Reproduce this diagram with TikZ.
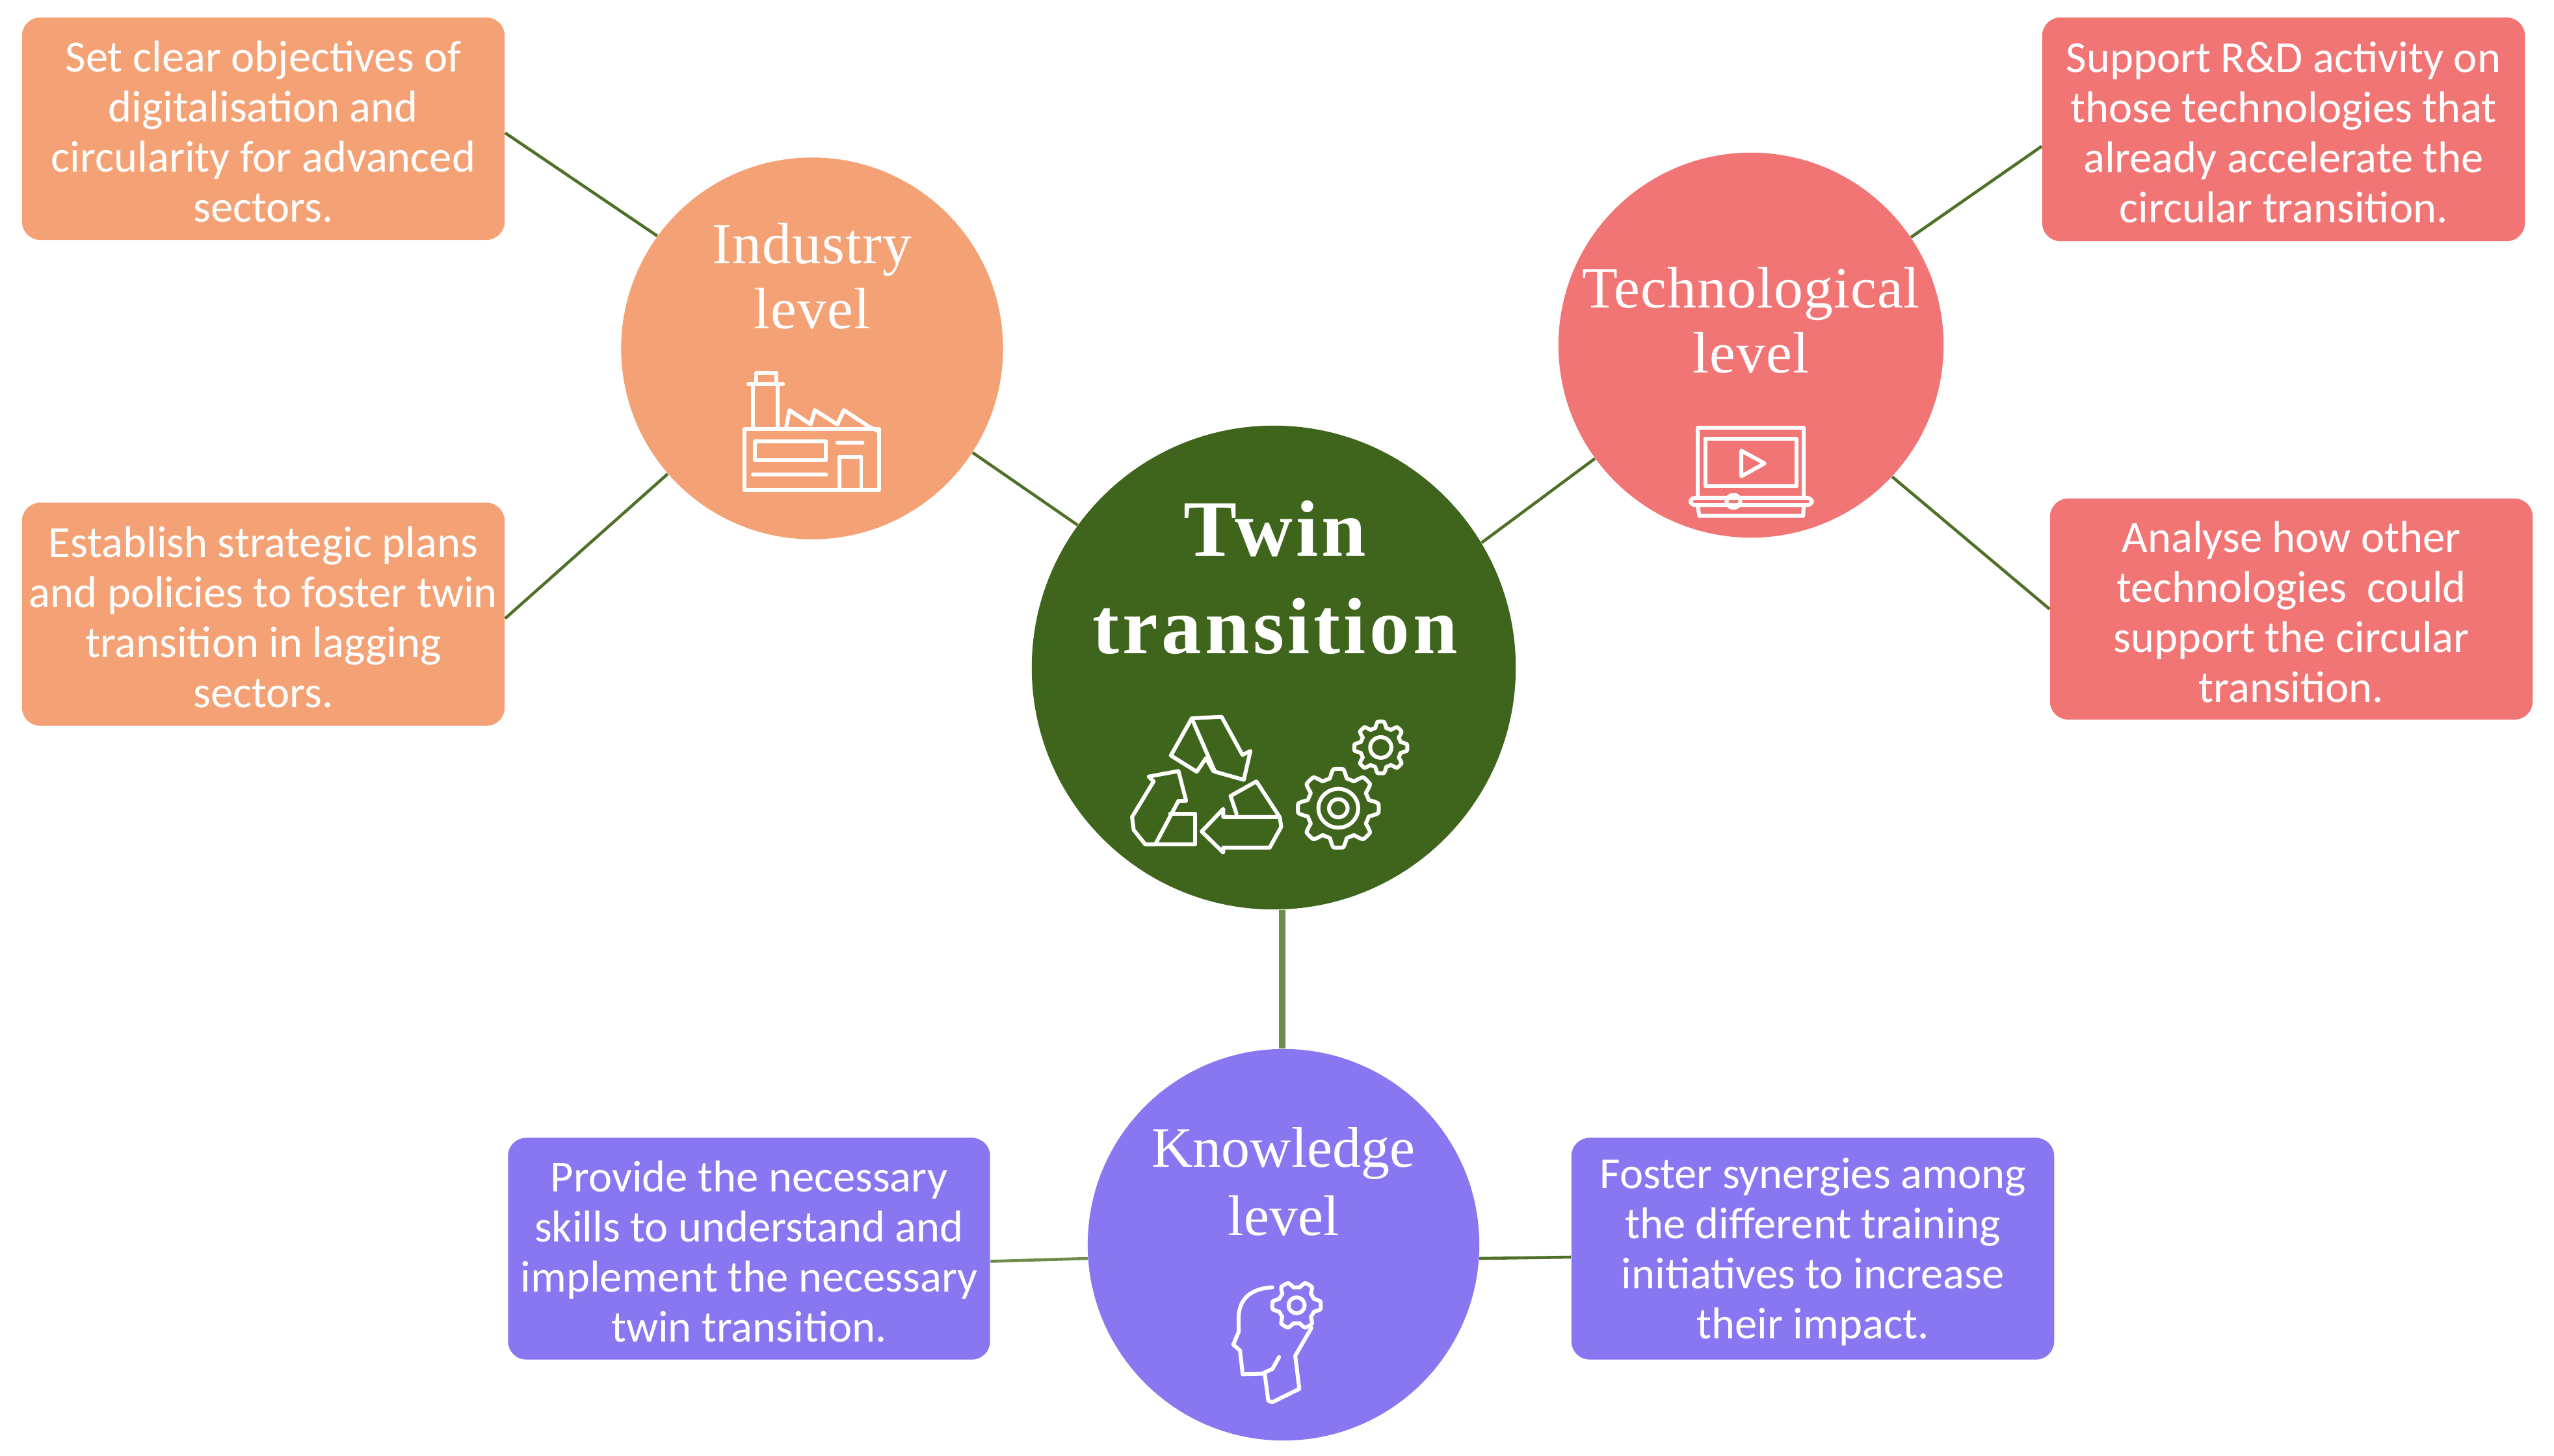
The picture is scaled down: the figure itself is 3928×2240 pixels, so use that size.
\documentclass[tikz,border=0pt]{standalone}
\usepackage{fontspec}
\setmainfont{Carlito}
\newfontfamily\headfont{Liberation Serif}
\newfontfamily\headspaced[LetterSpace=1.2]{Liberation Serif}
\newfontfamily\headbold[LetterSpace=4.4,BoldFont={Liberation Serif Bold}]{Liberation Serif}
\definecolor{orangeC}{HTML}{F4A275}
\definecolor{redC}{HTML}{F27575}
\definecolor{purpleC}{HTML}{8877F0}
\definecolor{greenC}{HTML}{3F651C}
\definecolor{linkC}{HTML}{4F7028}
\definecolor{linkL}{HTML}{6E8B4D}
\tikzset{
 hub/.style={circle,inner sep=0pt,draw=none},
 note/.style={rounded corners=0.28cm,inner sep=0pt,text=white,align=center,draw=none,
   font=\fontsize{19.5pt}{21.9pt}\selectfont},
 head/.style={text=white,align=center,inner sep=0pt,font=\headspaced\fontsize{25.5pt}{28.5pt}\selectfont},
 link/.style={draw=linkC,line width=1.3pt},
 icon/.style={draw=white,line width=1.7pt,line join=round,line cap=round,fill=none},
}
\newcommand{\notetop}{\rule{0pt}{16.2pt}}
\newcommand{\geartooth}[5]{% cx cy outer inner teeth
 \draw[icon] plot[samples=241,domain=0:360] ({#1+(#4+(#3-#4)*(0.5+0.5*max(-1,min(1,1.8*cos(#5*\x)))))*cos(\x)},{#2+(#4+(#3-#4)*(0.5+0.5*max(-1,min(1,1.8*cos(#5*\x)))))*sin(\x)}) -- cycle;}
\begin{document}
\begin{tikzpicture}[x=0.01cm,y=-0.01cm]
\useasboundingbox (0,0) rectangle (3928,2240);
% hubs
\node[hub,fill=greenC,minimum size=7.44cm] (twin) at (1959,1027) {};
\node[hub,fill=orangeC,minimum size=5.87cm] (ind) at (1249,536) {};
\node[hub,fill=redC,minimum size=5.92cm] (tech) at (2693,531) {};
\node[hub,fill=purpleC,minimum size=6.02cm] (know) at (1974,1915) {};
% notes
\node[note,fill=orangeC,minimum width=7.42cm,minimum height=3.42cm] (n1) at (405,198) {\notetop Set clear objectives of\\digitalisation and\\circularity for advanced\\sectors.};
\node[note,fill=orangeC,minimum width=7.42cm,minimum height=3.43cm] (n2) at (405,945) {\notetop Establish strategic plans\\and policies to foster twin\\transition in lagging\\sectors.};
\node[note,fill=redC,minimum width=7.42cm,minimum height=3.44cm] (n3) at (3512,199) {\notetop Support R\&D activity on\\those technologies that\\already accelerate the\\circular transition.};
\node[note,fill=redC,minimum width=7.42cm,minimum height=3.40cm] (n4) at (3524,937) {\notetop Analyse how other\\technologies\ \ could\\support the circular\\transition.};
\node[note,fill=purpleC,minimum width=7.41cm,minimum height=3.41cm] (n5) at (1152,1921) {\notetop Provide the necessary\\skills to understand and\\implement the necessary\\twin transition.};
\node[note,fill=purpleC,minimum width=7.42cm,minimum height=3.41cm] (n6) at (2788,1921) {\notetop Foster synergies among\\the different training\\initiatives to increase\\their impact.};
% connectors
\draw[link] (n1.-1.4) -- (ind.144);
\draw[link] (n2.-1.4) -- (ind.221);
\draw[link] (ind.-33) -- (twin.144);
\draw[link] (twin.31.9) -- (tech.216.3);
\draw[link] (tech.34.2) -- (n3.184);
\draw[link] (tech.-43.9) -- (n4.180.3);
\draw[draw=linkL,line width=2.6pt] (twin.-88.6) -- (twin.-88.6 |- know.north);
\draw[link,draw=linkL] (n5.-3.1) -- (know.184.9);
\draw[link] (n6.182.5) -- (know.-4.2);
% titles
\node[head,font=\headbold\bfseries\fontsize{35pt}{42.7pt}\selectfont] (t0) at (1961,888) {Twin\\transition};
\node[head] (t1) at (1249,425) {Industry\\level};
\node[head] (t2) at (2693,493) {Technological\\level};
\node[head,font=\headfont\fontsize{25pt}{30pt}\selectfont] (t3) at (1974,1818) {Knowledge\\level};
% recycle + gears
\begin{scope}[shift={(1560,640)},xscale=0.51,yscale=0.4975]
 \draw[icon] (535,935) -- (625,930) -- (688,1048) -- (712,1036) -- (692,1125) -- (605,1100) -- cycle;
 \draw[icon] (535,935) -- (472,1050) -- (550,1100) -- (578,1058) -- (600,1098);
 \draw[icon] (405,1115) -- (495,1098) -- (518,1190) -- (495,1190) -- (425,1325) -- (395,1325) -- (360,1280) -- (355,1240) -- (420,1130) -- cycle;
 \draw[icon] (425,1325) -- (545,1325) -- (545,1230) -- (470,1230);
 \draw[icon] (670,1230) -- (652,1175) -- (730,1130) -- (800,1240) -- (805,1270) -- (770,1335) -- (630,1335) -- (630,1350) -- (565,1285) -- (630,1215) -- (630,1240) -- (800,1240);
 \geartooth{977}{1213}{122}{95}{8}
 \draw[icon] (977,1213) circle (60);
 \draw[icon] (977,1213) circle (28);
 \geartooth{1105}{1025}{80}{62}{8}
 \draw[icon] (1105,1025) circle (32);
\end{scope}
% factory
\begin{scope}[xscale=1.0204,yscale=0.7337]
 \draw[icon] (1135,895) -- (1135,805) -- (1172,805) -- (1172,895);
 \draw[icon] (1128,805) -- (1180,805);
 \draw[icon] (1140,805) -- (1140,782) -- (1170,782) -- (1170,805);
 \draw[icon] (1122,900) rectangle (1325,1028);
 \draw[icon] (1185,895) -- (1190,860) -- (1222,890) -- (1228,860) -- (1262,890) -- (1272,860) -- (1310,895) -- (1325,905);
 \draw[icon] (1138,925) rectangle (1245,965);
 \draw[icon] (1135,995) -- (1245,995);
 \draw[icon] (1262,928) -- (1300,928);
 \draw[icon] (1265,1028) -- (1265,958) -- (1298,958) -- (1298,1028);
\end{scope}
% laptop
\begin{scope}[shift={(2350,200)},xscale=0.4464,yscale=0.4146]
 \draw[icon] (585,1365) -- (585,1105) -- (950,1105) -- (950,1365);
 \draw[icon] (612,1145) rectangle (925,1322);
 \draw[icon] (735,1190) -- (735,1285) -- (815,1237) -- cycle;
 \draw[icon,rounded corners=2pt] (560,1365) rectangle (978,1392);
 \draw[icon] (585,1392) -- (590,1432) -- (948,1432) -- (950,1392);
 \draw[icon] (708,1378) circle (24);
\end{scope}
% head
\begin{scope}[shift={(1650,1600)},xscale=0.4146,yscale=0.4082]
 \draw[icon] (740,932) .. controls (680,935) and (620,960) .. (615,1040) -- (615,1100) -- (595,1148) -- (620,1170) -- (630,1260) -- (700,1258) -- (740,1240) -- (765,1195);
 \draw[icon] (712,1260) -- (725,1360) -- (740,1365) -- (840,1315) -- (825,1190) -- (885,1085);
 \geartooth{830}{1000}{90}{68}{6}
 \draw[icon] (830,1000) circle (30);
\end{scope}
\end{tikzpicture}
\end{document}
